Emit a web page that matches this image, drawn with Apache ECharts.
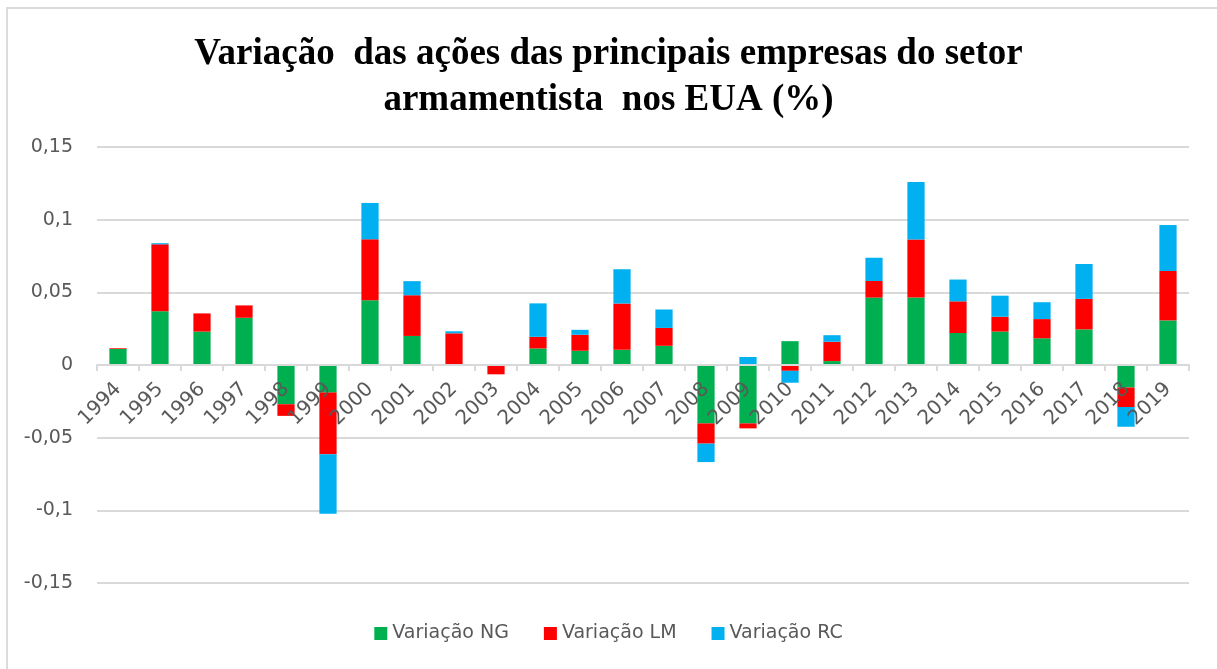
<!DOCTYPE html>
<html>
<head>
	<meta charset="utf-8" />
	<script src="https://cdn.jsdelivr.net/npm/echarts@6/dist/echarts.min.js"></script>
	<style>
		body { margin: 0; background: #ffffff; }
		#frame {
			position: absolute; left: 6px; top: 7px; width: 1300px; height: 700px;
			border-top: 2px solid #dcdcdc; border-left: 2px solid #dcdcdc;
		}
		#box1 { position: absolute; left: 0; top: 0; width: 1217px; height: 669px; }
	</style>
</head>
<body>
<div id="frame"></div>
<div id="box1"></div>
<script type="text/javascript">
	var years = ["1994","1995","1996","1997","1998","1999","2000","2001","2002","2003","2004","2005","2006",
		"2007","2008","2009","2010","2011","2012","2013","2014","2015","2016","2017","2018","2019"];
	// variacao NG / LM / RC
	var ng = [0.011, 0.037, 0.023, 0.0325, -0.027, -0.019, 0.0445, 0.020, 0, 0, 0.0114, 0.0098, 0.0105,
		0.0132, -0.0402, -0.0402, 0.0164, 0.0027, 0.0464, 0.0464, 0.022, 0.023, 0.0184, 0.0245, -0.0155, 0.0307];
	var lm = [0.0005, 0.046, 0.0125, 0.0085, -0.008, -0.0424, 0.042, 0.028, 0.0218, -0.0064, 0.008, 0.011, 0.0318,
		0.0123, -0.0139, -0.0034, -0.004, 0.0133, 0.0114, 0.040, 0.0218, 0.0102, 0.0132, 0.021, -0.0134, 0.034];
	var rc = [0, 0.0008, 0, 0, 0, -0.041, 0.025, 0.0097, 0.0014, 0, 0.023, 0.0034, 0.0236,
		0.0127, -0.0127, 0.0055, -0.0082, 0.0045, 0.016, 0.0395, 0.015, 0.0145, 0.0116, 0.024, -0.0136, 0.0316];

	var myChart = echarts.init(document.getElementById('box1'));
	var gray = '#595959';
	var yMin = -0.15, yMax = 0.15;
	var gridTop = 147, gridBottom = 86, plotH = 669 - gridTop - gridBottom;
	// category axis sits on the zero line (distance up from the bottom edge)
	var zeroLift = plotH * (0 - yMin) / (yMax - yMin);
	function bar(name, data, color) {
		return {
			name: name, type: 'bar', stack: 'total', data: data, barWidth: '41%',
			itemStyle: { color: color }
		};
	}
	var option = {
		animation: false,
		title: {
			text: 'Variação  das ações das principais empresas do setor\narmamentista  nos EUA (%)',
			left: 'center', top: 26,
			textStyle: {
				fontFamily: 'Liberation Serif', fontWeight: 'bold', fontSize: 37,
				color: '#000000', lineHeight: 46
			}
		},
		legend: {
			bottom: 21, left: 'center', itemWidth: 13, itemHeight: 13, itemGap: 35,
			icon: 'rect',
			textStyle: { fontFamily: 'DejaVu Sans', fontSize: 19, color: gray }
		},
		grid: { left: 97, right: 28, top: gridTop, bottom: gridBottom },
		xAxis: {
			type: 'category', data: years, z: 5, offset: -zeroLift,
			axisLine: { onZero: false, lineStyle: { color: '#d9d9d9', width: 2 } },
			axisTick: { show: true, length: 6, lineStyle: { color: '#d9d9d9', width: 2 } },
			axisLabel: {
				rotate: 45, margin: 21, padding: [22, 0, 0, 0],
				fontFamily: 'DejaVu Sans', fontSize: 20, color: gray
			}
		},
		yAxis: {
			type: 'value', min: yMin, max: yMax, interval: 0.05,
			axisLine: { show: false }, axisTick: { show: false },
			splitLine: { lineStyle: { color: '#d9d9d9', width: 2 } },
			axisLabel: {
				margin: 24, fontFamily: 'DejaVu Sans', fontSize: 19, color: gray,
				formatter: function (v) { return String(+v.toFixed(2)).replace('.', ','); }
			}
		},
		series: [
			bar('Variação NG', ng, '#00b050'),
			bar('Variação LM', lm, '#ff0000'),
			bar('Variação RC', rc, '#00b0f0')
		]
	};
	myChart.setOption(option);
</script>
</body>
</html>
